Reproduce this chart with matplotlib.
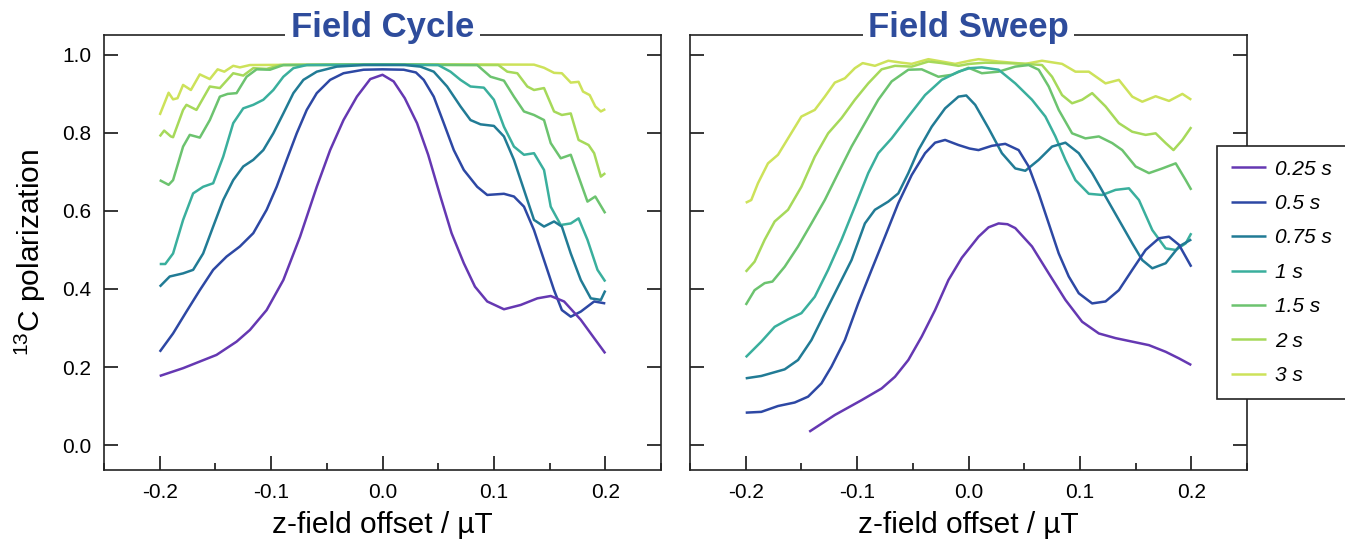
import matplotlib
matplotlib.use("Agg")
import matplotlib.pyplot as plt
from matplotlib.ticker import MultipleLocator

plt.rcParams['font.family'] = ['Liberation Sans', 'DejaVu Sans']
plt.rcParams['mathtext.fontset'] = 'custom'
plt.rcParams['mathtext.rm'] = 'Liberation Sans'
plt.rcParams['axes.unicode_minus'] = False

# ---------------- data ----------------
labels = ['0.25 s', '0.5 s', '0.75 s', '1 s', '1.5 s', '2 s', '3 s']
colors = ['#6538b2', '#2d48a4', '#217b95', '#3aaf9d', '#6cc36f', '#a6d95a', '#cde25a']
panel_titles = ['Field Cycle', 'Field Sweep']

# Field Cycle
cyc_x_025 = [-0.200, -0.179, -0.149, -0.131, -0.119, -0.104, -0.089, -0.074, -0.059, -0.047, -0.035, -0.023, -0.011, 0.000, 0.010, 0.020, 0.031, 0.041, 0.052, 0.062, 0.073, 0.083, 0.094, 0.109, 0.124, 0.139, 0.151, 0.163, 0.178, 0.190, 0.200]
cyc_y_025 = [0.177, 0.197, 0.231, 0.265, 0.295, 0.346, 0.423, 0.534, 0.662, 0.756, 0.833, 0.893, 0.938, 0.949, 0.932, 0.889, 0.825, 0.744, 0.637, 0.543, 0.466, 0.406, 0.368, 0.348, 0.359, 0.376, 0.382, 0.368, 0.321, 0.274, 0.235]
cyc_x_05 = [-0.200, -0.188, -0.176, -0.164, -0.152, -0.140, -0.128, -0.116, -0.104, -0.095, -0.086, -0.077, -0.068, -0.059, -0.047, -0.035, -0.017, 0.000, 0.019, 0.030, 0.037, 0.046, 0.055, 0.064, 0.073, 0.085, 0.094, 0.109, 0.118, 0.127, 0.136, 0.145, 0.154, 0.161, 0.169, 0.178, 0.190, 0.200]
cyc_y_05 = [0.239, 0.286, 0.342, 0.397, 0.449, 0.483, 0.509, 0.543, 0.603, 0.662, 0.731, 0.799, 0.859, 0.902, 0.936, 0.953, 0.962, 0.963, 0.962, 0.955, 0.936, 0.893, 0.825, 0.756, 0.705, 0.662, 0.641, 0.644, 0.637, 0.611, 0.551, 0.474, 0.397, 0.346, 0.329, 0.342, 0.368, 0.363]
cyc_x_075 = [-0.200, -0.191, -0.179, -0.170, -0.161, -0.152, -0.143, -0.134, -0.125, -0.116, -0.107, -0.098, -0.089, -0.080, -0.071, -0.059, -0.041, -0.017, 0.020, 0.034, 0.046, 0.058, 0.070, 0.079, 0.088, 0.100, 0.109, 0.118, 0.127, 0.136, 0.145, 0.154, 0.161, 0.169, 0.178, 0.187, 0.196, 0.200]
cyc_y_075 = [0.406, 0.432, 0.440, 0.449, 0.491, 0.560, 0.628, 0.679, 0.714, 0.731, 0.756, 0.799, 0.850, 0.902, 0.936, 0.957, 0.970, 0.974, 0.974, 0.970, 0.957, 0.919, 0.868, 0.833, 0.822, 0.818, 0.791, 0.731, 0.654, 0.577, 0.560, 0.573, 0.560, 0.491, 0.423, 0.376, 0.372, 0.396]
cyc_x_1 = [-0.200, -0.195, -0.188, -0.179, -0.170, -0.161, -0.152, -0.143, -0.134, -0.125, -0.116, -0.107, -0.098, -0.089, -0.080, -0.068, 0.000, 0.050, 0.061, 0.070, 0.079, 0.091, 0.100, 0.109, 0.118, 0.127, 0.136, 0.145, 0.151, 0.160, 0.169, 0.176, 0.184, 0.193, 0.200]
cyc_y_1 = [0.464, 0.464, 0.491, 0.577, 0.645, 0.662, 0.671, 0.739, 0.825, 0.863, 0.872, 0.885, 0.910, 0.944, 0.966, 0.974, 0.975, 0.974, 0.957, 0.936, 0.919, 0.916, 0.885, 0.816, 0.765, 0.744, 0.748, 0.705, 0.611, 0.564, 0.568, 0.581, 0.526, 0.449, 0.419]
cyc_x_15 = [-0.200, -0.192, -0.188, -0.179, -0.173, -0.164, -0.155, -0.146, -0.139, -0.131, -0.122, -0.113, -0.101, -0.089, 0.000, 0.085, 0.097, 0.109, 0.118, 0.127, 0.136, 0.145, 0.151, 0.160, 0.169, 0.176, 0.184, 0.191, 0.200]
cyc_y_15 = [0.679, 0.667, 0.679, 0.765, 0.795, 0.788, 0.833, 0.893, 0.900, 0.902, 0.944, 0.963, 0.962, 0.974, 0.975, 0.974, 0.944, 0.934, 0.893, 0.855, 0.846, 0.833, 0.774, 0.735, 0.744, 0.688, 0.624, 0.637, 0.594]
cyc_x_2 = [-0.200, -0.196, -0.190, -0.188, -0.179, -0.176, -0.167, -0.155, -0.146, -0.134, -0.125, -0.116, -0.104, -0.092, 0.000, 0.104, 0.112, 0.121, 0.130, 0.136, 0.145, 0.154, 0.161, 0.169, 0.176, 0.185, 0.190, 0.196, 0.200]
cyc_y_2 = [0.791, 0.806, 0.791, 0.789, 0.859, 0.872, 0.859, 0.919, 0.915, 0.953, 0.947, 0.966, 0.964, 0.974, 0.975, 0.974, 0.957, 0.953, 0.919, 0.910, 0.915, 0.855, 0.846, 0.850, 0.782, 0.769, 0.748, 0.688, 0.697]
cyc_x_3 = [-0.200, -0.192, -0.188, -0.184, -0.179, -0.172, -0.164, -0.155, -0.148, -0.142, -0.134, -0.128, -0.119, 0.000, 0.136, 0.145, 0.154, 0.161, 0.169, 0.176, 0.180, 0.186, 0.191, 0.196, 0.200]
cyc_y_3 = [0.846, 0.903, 0.886, 0.889, 0.923, 0.910, 0.950, 0.938, 0.963, 0.957, 0.972, 0.968, 0.974, 0.976, 0.975, 0.967, 0.954, 0.953, 0.929, 0.931, 0.906, 0.897, 0.868, 0.855, 0.861]

# Field Sweep
swp_x_025 = [-0.143, -0.120, -0.096, -0.078, -0.066, -0.054, -0.042, -0.030, -0.018, -0.006, 0.009, 0.018, 0.027, 0.035, 0.042, 0.057, 0.072, 0.087, 0.102, 0.117, 0.132, 0.147, 0.162, 0.177, 0.189, 0.200]
swp_y_025 = [0.034, 0.077, 0.115, 0.145, 0.175, 0.218, 0.278, 0.346, 0.423, 0.480, 0.534, 0.558, 0.568, 0.566, 0.556, 0.509, 0.440, 0.372, 0.316, 0.286, 0.274, 0.265, 0.256, 0.239, 0.222, 0.205]
swp_x_05 = [-0.200, -0.186, -0.171, -0.156, -0.144, -0.132, -0.123, -0.111, -0.099, -0.087, -0.075, -0.063, -0.051, -0.039, -0.030, -0.021, -0.009, 0.001, 0.009, 0.021, 0.033, 0.045, 0.054, 0.063, 0.072, 0.081, 0.090, 0.099, 0.111, 0.123, 0.135, 0.147, 0.159, 0.171, 0.180, 0.189, 0.200]
swp_y_05 = [0.083, 0.085, 0.100, 0.109, 0.124, 0.158, 0.201, 0.269, 0.363, 0.449, 0.534, 0.620, 0.692, 0.748, 0.775, 0.782, 0.769, 0.760, 0.756, 0.767, 0.772, 0.756, 0.714, 0.645, 0.568, 0.491, 0.432, 0.389, 0.363, 0.368, 0.397, 0.449, 0.500, 0.530, 0.534, 0.513, 0.457]
swp_x_075 = [-0.200, -0.186, -0.165, -0.153, -0.141, -0.129, -0.117, -0.105, -0.093, -0.084, -0.072, -0.063, -0.054, -0.045, -0.033, -0.021, -0.009, -0.002, 0.006, 0.018, 0.030, 0.042, 0.051, 0.063, 0.075, 0.087, 0.099, 0.111, 0.123, 0.135, 0.147, 0.156, 0.165, 0.177, 0.189, 0.200]
swp_y_075 = [0.171, 0.177, 0.194, 0.218, 0.269, 0.338, 0.406, 0.474, 0.568, 0.603, 0.624, 0.645, 0.697, 0.756, 0.816, 0.863, 0.893, 0.896, 0.872, 0.812, 0.748, 0.709, 0.703, 0.731, 0.765, 0.775, 0.748, 0.697, 0.637, 0.577, 0.517, 0.474, 0.453, 0.466, 0.509, 0.527]
swp_x_1 = [-0.200, -0.186, -0.174, -0.162, -0.150, -0.138, -0.126, -0.114, -0.102, -0.090, -0.081, -0.069, -0.054, -0.039, -0.024, -0.009, 0.001, 0.012, 0.027, 0.042, 0.057, 0.069, 0.078, 0.087, 0.096, 0.108, 0.120, 0.132, 0.144, 0.153, 0.165, 0.177, 0.186, 0.195, 0.200]
swp_y_1 = [0.225, 0.265, 0.303, 0.322, 0.338, 0.380, 0.449, 0.526, 0.611, 0.697, 0.748, 0.786, 0.842, 0.897, 0.936, 0.957, 0.966, 0.968, 0.962, 0.927, 0.885, 0.842, 0.791, 0.731, 0.679, 0.644, 0.641, 0.654, 0.658, 0.628, 0.551, 0.504, 0.500, 0.517, 0.543]
swp_x_15 = [-0.200, -0.192, -0.183, -0.176, -0.165, -0.153, -0.141, -0.129, -0.117, -0.105, -0.093, -0.081, -0.069, -0.054, -0.042, -0.027, -0.015, 0.000, 0.012, 0.027, 0.042, 0.054, 0.063, 0.072, 0.081, 0.093, 0.105, 0.117, 0.129, 0.138, 0.150, 0.162, 0.174, 0.186, 0.195, 0.200]
swp_y_15 = [0.359, 0.397, 0.415, 0.419, 0.457, 0.509, 0.568, 0.628, 0.697, 0.765, 0.825, 0.885, 0.932, 0.962, 0.963, 0.944, 0.949, 0.967, 0.953, 0.957, 0.970, 0.974, 0.962, 0.919, 0.859, 0.799, 0.786, 0.791, 0.774, 0.756, 0.714, 0.697, 0.709, 0.722, 0.679, 0.654]
swp_x_2 = [-0.200, -0.192, -0.183, -0.174, -0.162, -0.150, -0.138, -0.126, -0.114, -0.102, -0.090, -0.078, -0.066, -0.051, -0.036, -0.024, -0.009, 0.001, 0.015, 0.033, 0.051, 0.066, 0.075, 0.084, 0.093, 0.102, 0.111, 0.123, 0.135, 0.147, 0.159, 0.168, 0.177, 0.184, 0.192, 0.200]
swp_y_2 = [0.444, 0.470, 0.526, 0.573, 0.603, 0.662, 0.739, 0.799, 0.838, 0.885, 0.927, 0.963, 0.972, 0.970, 0.983, 0.979, 0.972, 0.977, 0.980, 0.979, 0.977, 0.974, 0.944, 0.897, 0.876, 0.885, 0.902, 0.868, 0.825, 0.803, 0.795, 0.799, 0.774, 0.756, 0.782, 0.815]
swp_x_3 = [-0.200, -0.195, -0.189, -0.180, -0.171, -0.162, -0.150, -0.138, -0.129, -0.120, -0.111, -0.102, -0.095, -0.084, -0.072, -0.060, -0.051, -0.036, -0.024, -0.012, 0.001, 0.009, 0.027, 0.051, 0.066, 0.084, 0.096, 0.108, 0.123, 0.135, 0.147, 0.156, 0.168, 0.180, 0.192, 0.200]
swp_y_3 = [0.621, 0.628, 0.671, 0.722, 0.744, 0.786, 0.842, 0.859, 0.893, 0.929, 0.940, 0.966, 0.979, 0.972, 0.985, 0.980, 0.977, 0.989, 0.983, 0.977, 0.985, 0.989, 0.983, 0.977, 0.985, 0.977, 0.957, 0.957, 0.927, 0.936, 0.893, 0.880, 0.894, 0.882, 0.900, 0.885]

cycle_series = [(cyc_x_025, cyc_y_025), (cyc_x_05, cyc_y_05), (cyc_x_075, cyc_y_075),
                (cyc_x_1, cyc_y_1), (cyc_x_15, cyc_y_15), (cyc_x_2, cyc_y_2), (cyc_x_3, cyc_y_3)]
sweep_series = [(swp_x_025, swp_y_025), (swp_x_05, swp_y_05), (swp_x_075, swp_y_075),
                (swp_x_1, swp_y_1), (swp_x_15, swp_y_15), (swp_x_2, swp_y_2), (swp_x_3, swp_y_3)]

# ---------------- figure ----------------
W, H = 1345, 548
fig = plt.figure(figsize=(W / 100, H / 100), dpi=100)

def px_box(x0, x1, ytop, ybot):
    return [x0 / W, 1 - ybot / H, (x1 - x0) / W, (ybot - ytop) / H]

ax1 = fig.add_axes(px_box(104, 661, 35, 470))
ax2 = fig.add_axes(px_box(690, 1247, 35, 470))

title_color = '#2e4c9c'
handles = []
for ax, series, title in [(ax1, cycle_series, panel_titles[0]), (ax2, sweep_series, panel_titles[1])]:
    for i, ((xs, ys), c, lab) in enumerate(zip(series, colors, labels)):
        ln, = ax.plot(xs, ys, color=c, lw=1.8, label=lab, zorder=3 + (6 - i) * 0.1,
                      solid_joinstyle='round', solid_capstyle='butt')
        if ax is ax1:
            handles.append(ln)
    ax.set_xlim(-0.25, 0.25)
    ax.set_ylim(-0.064, 1.051)
    ax.xaxis.set_minor_locator(MultipleLocator(0.05))
    ax.set_xticks([-0.2, -0.1, 0.0, 0.1, 0.2])
    ax.set_xticklabels(['-0.2', '-0.1', '0.0', '0.1', '0.2'])
    ax.tick_params(axis='x', which='major', direction='in', length=10, width=1.1,
                   labelsize=15, pad=9, top=False, bottom=True)
    ax.tick_params(axis='x', which='minor', direction='in', length=5, width=1.1,
                   top=False, bottom=True)
    ax.tick_params(axis='y', which='major', direction='in', length=10, width=1.1,
                   labelsize=15, pad=9, left=True, right=True)
    for sp in ax.spines.values():
        sp.set_linewidth(1.2)
        sp.set_color('#222222')
    ax.set_xlabel('z-field offset / µT', fontsize=21.5, labelpad=7)
    ax.text(0.5, 1.018, title, transform=ax.transAxes, ha='center', va='center',
            fontsize=25, fontweight='bold', color=title_color, zorder=10,
            bbox=dict(facecolor='white', edgecolor='none', pad=4))

ax1.set_yticks([0.0, 0.2, 0.4, 0.6, 0.8, 1.0])
ax1.set_yticklabels(['0.0', '0.2', '0.4', '0.6', '0.8', '1.0'])
ax2.set_yticks([0.0, 0.2, 0.4, 0.6, 0.8, 1.0])
ax2.tick_params(axis='y', labelleft=False)
ax1.set_ylabel(r'$^{13}$C polarization', fontsize=21.5, labelpad=10)

leg = fig.legend(handles=handles, loc='upper left', bbox_to_anchor=(1217 / W, 1 - 146 / H),
                 borderaxespad=0, frameon=True, fancybox=False, framealpha=1,
                 prop={'size': 15, 'style': 'italic'},
                 handlelength=1.7, handletextpad=0.45, labelspacing=0.74, borderpad=0.65)
leg.get_frame().set_edgecolor('#222222')
leg.get_frame().set_linewidth(1.2)
leg.set_zorder(20)

fig.savefig('out.png', dpi=100)
